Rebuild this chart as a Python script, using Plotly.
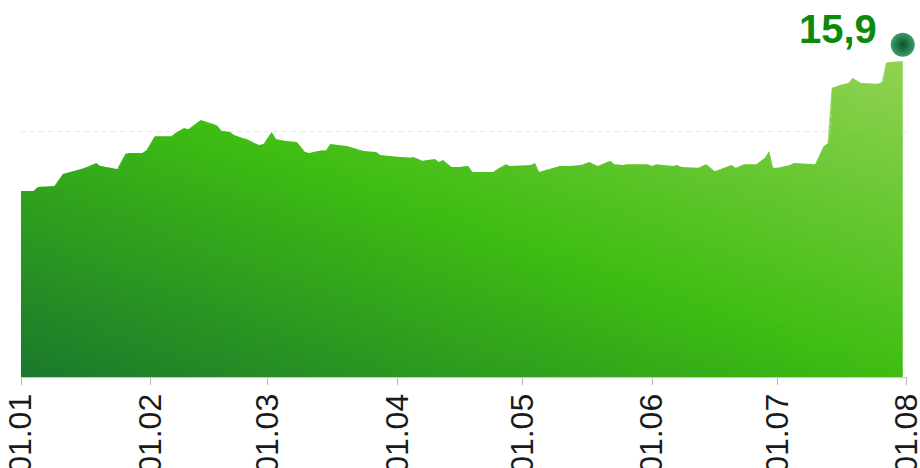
import numpy as np
import plotly.graph_objects as go

# ---------------- data ----------------
dates = [
    "2023-01-01", "2023-01-04", "2023-01-05", "2023-01-09", "2023-01-11", "2023-01-13",
    "2023-01-16", "2023-01-19", "2023-01-20", "2023-01-23", "2023-01-24", "2023-01-26",
    "2023-01-27", "2023-01-30", "2023-01-31", "2023-02-02", "2023-02-06", "2023-02-07",
    "2023-02-09", "2023-02-10", "2023-02-13", "2023-02-16", "2023-02-17", "2023-02-18",
    "2023-02-20", "2023-02-21", "2023-02-23", "2023-02-24", "2023-02-26", "2023-02-27",
    "2023-02-28", "2023-03-02", "2023-03-03", "2023-03-05", "2023-03-08", "2023-03-10",
    "2023-03-11", "2023-03-13", "2023-03-15", "2023-03-16", "2023-03-20", "2023-03-24",
    "2023-03-27", "2023-03-28", "2023-03-31", "2023-04-04", "2023-04-05", "2023-04-07",
    "2023-04-10", "2023-04-11", "2023-04-12", "2023-04-14", "2023-04-16", "2023-04-18",
    "2023-04-19", "2023-04-24", "2023-04-25", "2023-04-27", "2023-04-28", "2023-05-03",
    "2023-05-04", "2023-05-05", "2023-05-10", "2023-05-12", "2023-05-15", "2023-05-17",
    "2023-05-19", "2023-05-22", "2023-05-23", "2023-05-25", "2023-05-26", "2023-05-29",
    "2023-05-31", "2023-06-01", "2023-06-02", "2023-06-06", "2023-06-07", "2023-06-08",
    "2023-06-12", "2023-06-14", "2023-06-16", "2023-06-20", "2023-06-21", "2023-06-23",
    "2023-06-26", "2023-06-28", "2023-06-29", "2023-06-30", "2023-07-01", "2023-07-04",
    "2023-07-05", "2023-07-10", "2023-07-12", "2023-07-13", "2023-07-14", "2023-07-16",
    "2023-07-18", "2023-07-19", "2023-07-21", "2023-07-25", "2023-07-26", "2023-07-27",
    "2023-07-28", "2023-07-31",
]
values = [
    12.37, 12.37, 12.48, 12.51, 12.83, 12.89,
    12.99, 13.13, 13.05, 12.99, 12.97, 13.38,
    13.40, 13.40, 13.48, 13.86, 13.86, 13.95,
    14.08, 14.05, 14.30, 14.19, 14.14, 14.00,
    13.97, 13.89, 13.81, 13.78, 13.67, 13.62,
    13.65, 13.97, 13.78, 13.73, 13.70, 13.43,
    13.40, 13.46, 13.48, 13.65, 13.59, 13.46,
    13.43, 13.35, 13.32, 13.27, 13.29, 13.19,
    13.24, 13.16, 13.21, 13.02, 13.02, 13.05,
    12.89, 12.89, 12.97, 13.10, 13.05, 13.08,
    13.13, 12.89, 13.05, 13.05, 13.08, 13.16,
    13.05, 13.19, 13.10, 13.08, 13.10, 13.10,
    13.10, 13.05, 13.10, 13.05, 13.08, 13.02,
    13.00, 13.10, 12.91, 13.08, 13.00, 13.10,
    13.10, 13.27, 13.46, 13.00, 13.00, 13.08,
    13.13, 13.10, 13.57, 13.67, 15.17, 15.25,
    15.30, 15.44, 15.30, 15.28, 15.33, 15.85,
    15.87, 15.90,
]
last_label = "15,9"
tick_dates = ["2023-01-01", "2023-02-01", "2023-03-01", "2023-04-01",
              "2023-05-01", "2023-06-01", "2023-07-01", "2023-08-01"]
tick_text = ["01.01", "01.02", "01.03", "01.04", "01.05", "01.06", "01.07", "01.08"]
grid_value = 14.0

# ---------------- styling ----------------
Y_MIN, Y_MAX = 7.322, 17.556
PIN_OFFSET = 0.44
FONT = "Liberation Sans, Arial, sans-serif"

stops = [(0.0, (27, 120, 45)), (0.5, (62, 189, 18)), (1.0, (145, 210, 82))]


def grad_color(s):
    s = min(max(s, 0.0), 1.0)
    for (s0, c0), (s1, c1) in zip(stops[:-1], stops[1:]):
        if s <= s1:
            t = (s - s0) / (s1 - s0)
            c = [round(a + (b - a) * t) for a, b in zip(c0, c1)]
            return "rgb(%d,%d,%d)" % tuple(c)
    return "rgb(%d,%d,%d)" % stops[-1][1]


v = np.array(values)
top = v.max()
N = 36
levels = np.linspace(Y_MIN, top, N + 1)
eps = 0.02

fig = go.Figure()
for k in range(N):
    lo = np.minimum(v, levels[k] - (eps if k > 0 else 2.0))
    hi = v if k == N - 1 else np.minimum(v, levels[k + 1])
    tv = (k + 0.5) / N
    cs = [[float(p), grad_color((p + tv) / 2)] for p in np.linspace(0, 1, 11)]
    fig.add_trace(go.Scatter(x=dates, y=lo, mode="lines", line=dict(width=0),
                             hoverinfo="skip", showlegend=False))
    fig.add_trace(go.Scatter(x=dates, y=hi, mode="lines", line=dict(width=0),
                             fill="tonexty",
                             fillgradient=dict(type="horizontal", colorscale=cs),
                             hoverinfo="skip", showlegend=False))

# pin marker at the last value
fig.add_trace(go.Scatter(
    x=[dates[-1]], y=[values[-1]], yaxis="y2", mode="markers",
    marker=dict(size=24, color="#3f9d68",
                gradient=dict(type="radial", color="#04552a"),
                line=dict(width=0)),
    cliponaxis=False, hoverinfo="skip", showlegend=False))

fig.add_annotation(
    x=dates[-1], y=values[-1], xref="x", yref="y2",
    text="<b>" + last_label + "</b>", showarrow=False,
    xanchor="right", yanchor="middle", xshift=-24, yshift=16,
    font=dict(family=FONT, size=40, color="#0b8a0b"))

fig.update_layout(
    template="none",
    width=920, height=468,
    margin=dict(l=21, r=13, t=0, b=91),
    paper_bgcolor="white", plot_bgcolor="white",
    showlegend=False,
    xaxis=dict(
        type="date", range=["2023-01-01", "2023-08-01 00:20"],
        tickmode="array", tickvals=tick_dates, ticktext=tick_text,
        tickangle=-90, ticks="outside", ticklen=7, tickwidth=1,
        tickcolor="#b5b5b5", showline=True, linecolor="#c8c8c8", linewidth=1,
        showgrid=False, zeroline=False, automargin=False,
        ticklabeloverflow="allow", ticklabelstandoff=-4,
        tickfont=dict(family=FONT, size=32, color="#1a1a1a"),
    ),
    yaxis=dict(
        range=[Y_MIN, Y_MAX], tickmode="array", tickvals=[grid_value],
        showticklabels=False, ticks="", showgrid=True, gridcolor="#e9e9e9",
        griddash="5px,4px", gridwidth=1, zeroline=False, showline=False,
        automargin=False,
    ),
    yaxis2=dict(
        range=[Y_MIN - PIN_OFFSET, Y_MAX - PIN_OFFSET], overlaying="y",
        visible=False,
    ),
)

fig.write_html(
    "out.html",
    config={"displayModeBar": False, "staticPlot": True},
    post_script="document.body.style.margin='0';document.body.style.overflow='hidden';",
)
